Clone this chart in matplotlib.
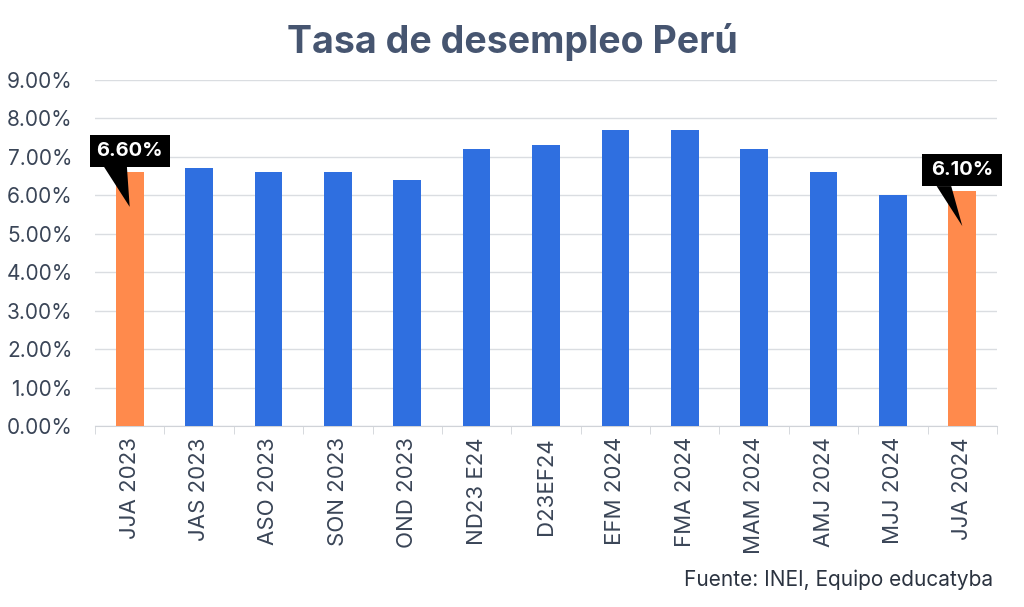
import matplotlib
matplotlib.use("Agg")
import matplotlib.pyplot as plt
from matplotlib.ticker import FixedLocator, FuncFormatter
from matplotlib.patches import Rectangle, Polygon

categories = ["JJA 2023", "JAS 2023", "ASO 2023", "SON 2023", "OND 2023", "ND23 E24",
              "D23EF24", "EFM 2024", "FMA 2024", "MAM 2024", "AMJ 2024", "MJJ 2024", "JJA 2024"]
values = [6.6, 6.7, 6.6, 6.6, 6.4, 7.2, 7.3, 7.7, 7.7, 7.2, 6.6, 6.0, 6.1]
highlight = [0, 12]
yticks = [0, 1, 2, 3, 4, 5, 6, 7, 8, 9]

blue = "#2F6FE0"
orange = "#FF8A4C"
text_col = "#3A4557"

plt.rcParams['font.family'] = ['Inter', 'DejaVu Sans']

fig = plt.figure(figsize=(10.24, 6.07), dpi=100)
ax = fig.add_axes([95/1024, 1-426/607, (997-95)/1024, (426-80)/607])

x = list(range(len(categories)))
colors = [orange if i in highlight else blue for i in x]
ax.bar(x, values, width=0.4, color=colors, zorder=3)

ax.set_xlim(-0.5, len(categories)-0.5)
ax.set_ylim(0, 9)
ax.set_yticks(yticks)
ax.yaxis.set_major_formatter(FuncFormatter(lambda v, p: f"{v:.2f}%"))
ax.grid(axis='y', color="#DADDE1", linewidth=1, zorder=0)
for s in ['top', 'right', 'left']:
    ax.spines[s].set_visible(False)
ax.spines['bottom'].set_color("#D0D3D8")
ax.tick_params(axis='y', length=0, pad=16, labelsize=15, labelcolor=text_col)
ax.set_xticks(x)
ax.set_xticklabels(categories, rotation=90, fontsize=16, color=text_col)
ax.tick_params(axis='x', length=0, pad=8)
ax.xaxis.set_minor_locator(FixedLocator([i - 0.5 for i in range(len(categories)+1)]))
ax.tick_params(axis='x', which='minor', length=6, color="#D0D3D8")

tail_left = {0: -0.37, 12: -0.37}
tail_right = {0: -0.04, 12: -0.16}
for i in highlight:
    v = values[i]
    cy = v + 0.55
    ax.add_patch(Rectangle((i - 0.575, cy - 0.415), 1.15, 0.83, fc='black', ec='none',
                           zorder=5, clip_on=False))
    ax.add_patch(Polygon([(i + tail_left[i], cy - 0.41), (i + tail_right[i], cy - 0.41),
                          (i, v - 0.9)], closed=True, fc='black', ec='none',
                         zorder=5, clip_on=False))
    ax.text(i, cy, f"{v:.2f}%", ha='center', va='center', fontsize=14.5,
            fontweight='bold', color='white', zorder=6, clip_on=False)

fig.text(512/1024, 1-42/607, "Tasa de desempleo Perú", ha='center', va='center',
         fontsize=27, fontweight='bold', color="#465570")
fig.text(993/1024, 1-580/607, "Fuente: INEI, Equipo educatyba", ha='right', va='center',
         fontsize=15, color="#2B3340")

fig.savefig("out.png", dpi=100, facecolor='white')
